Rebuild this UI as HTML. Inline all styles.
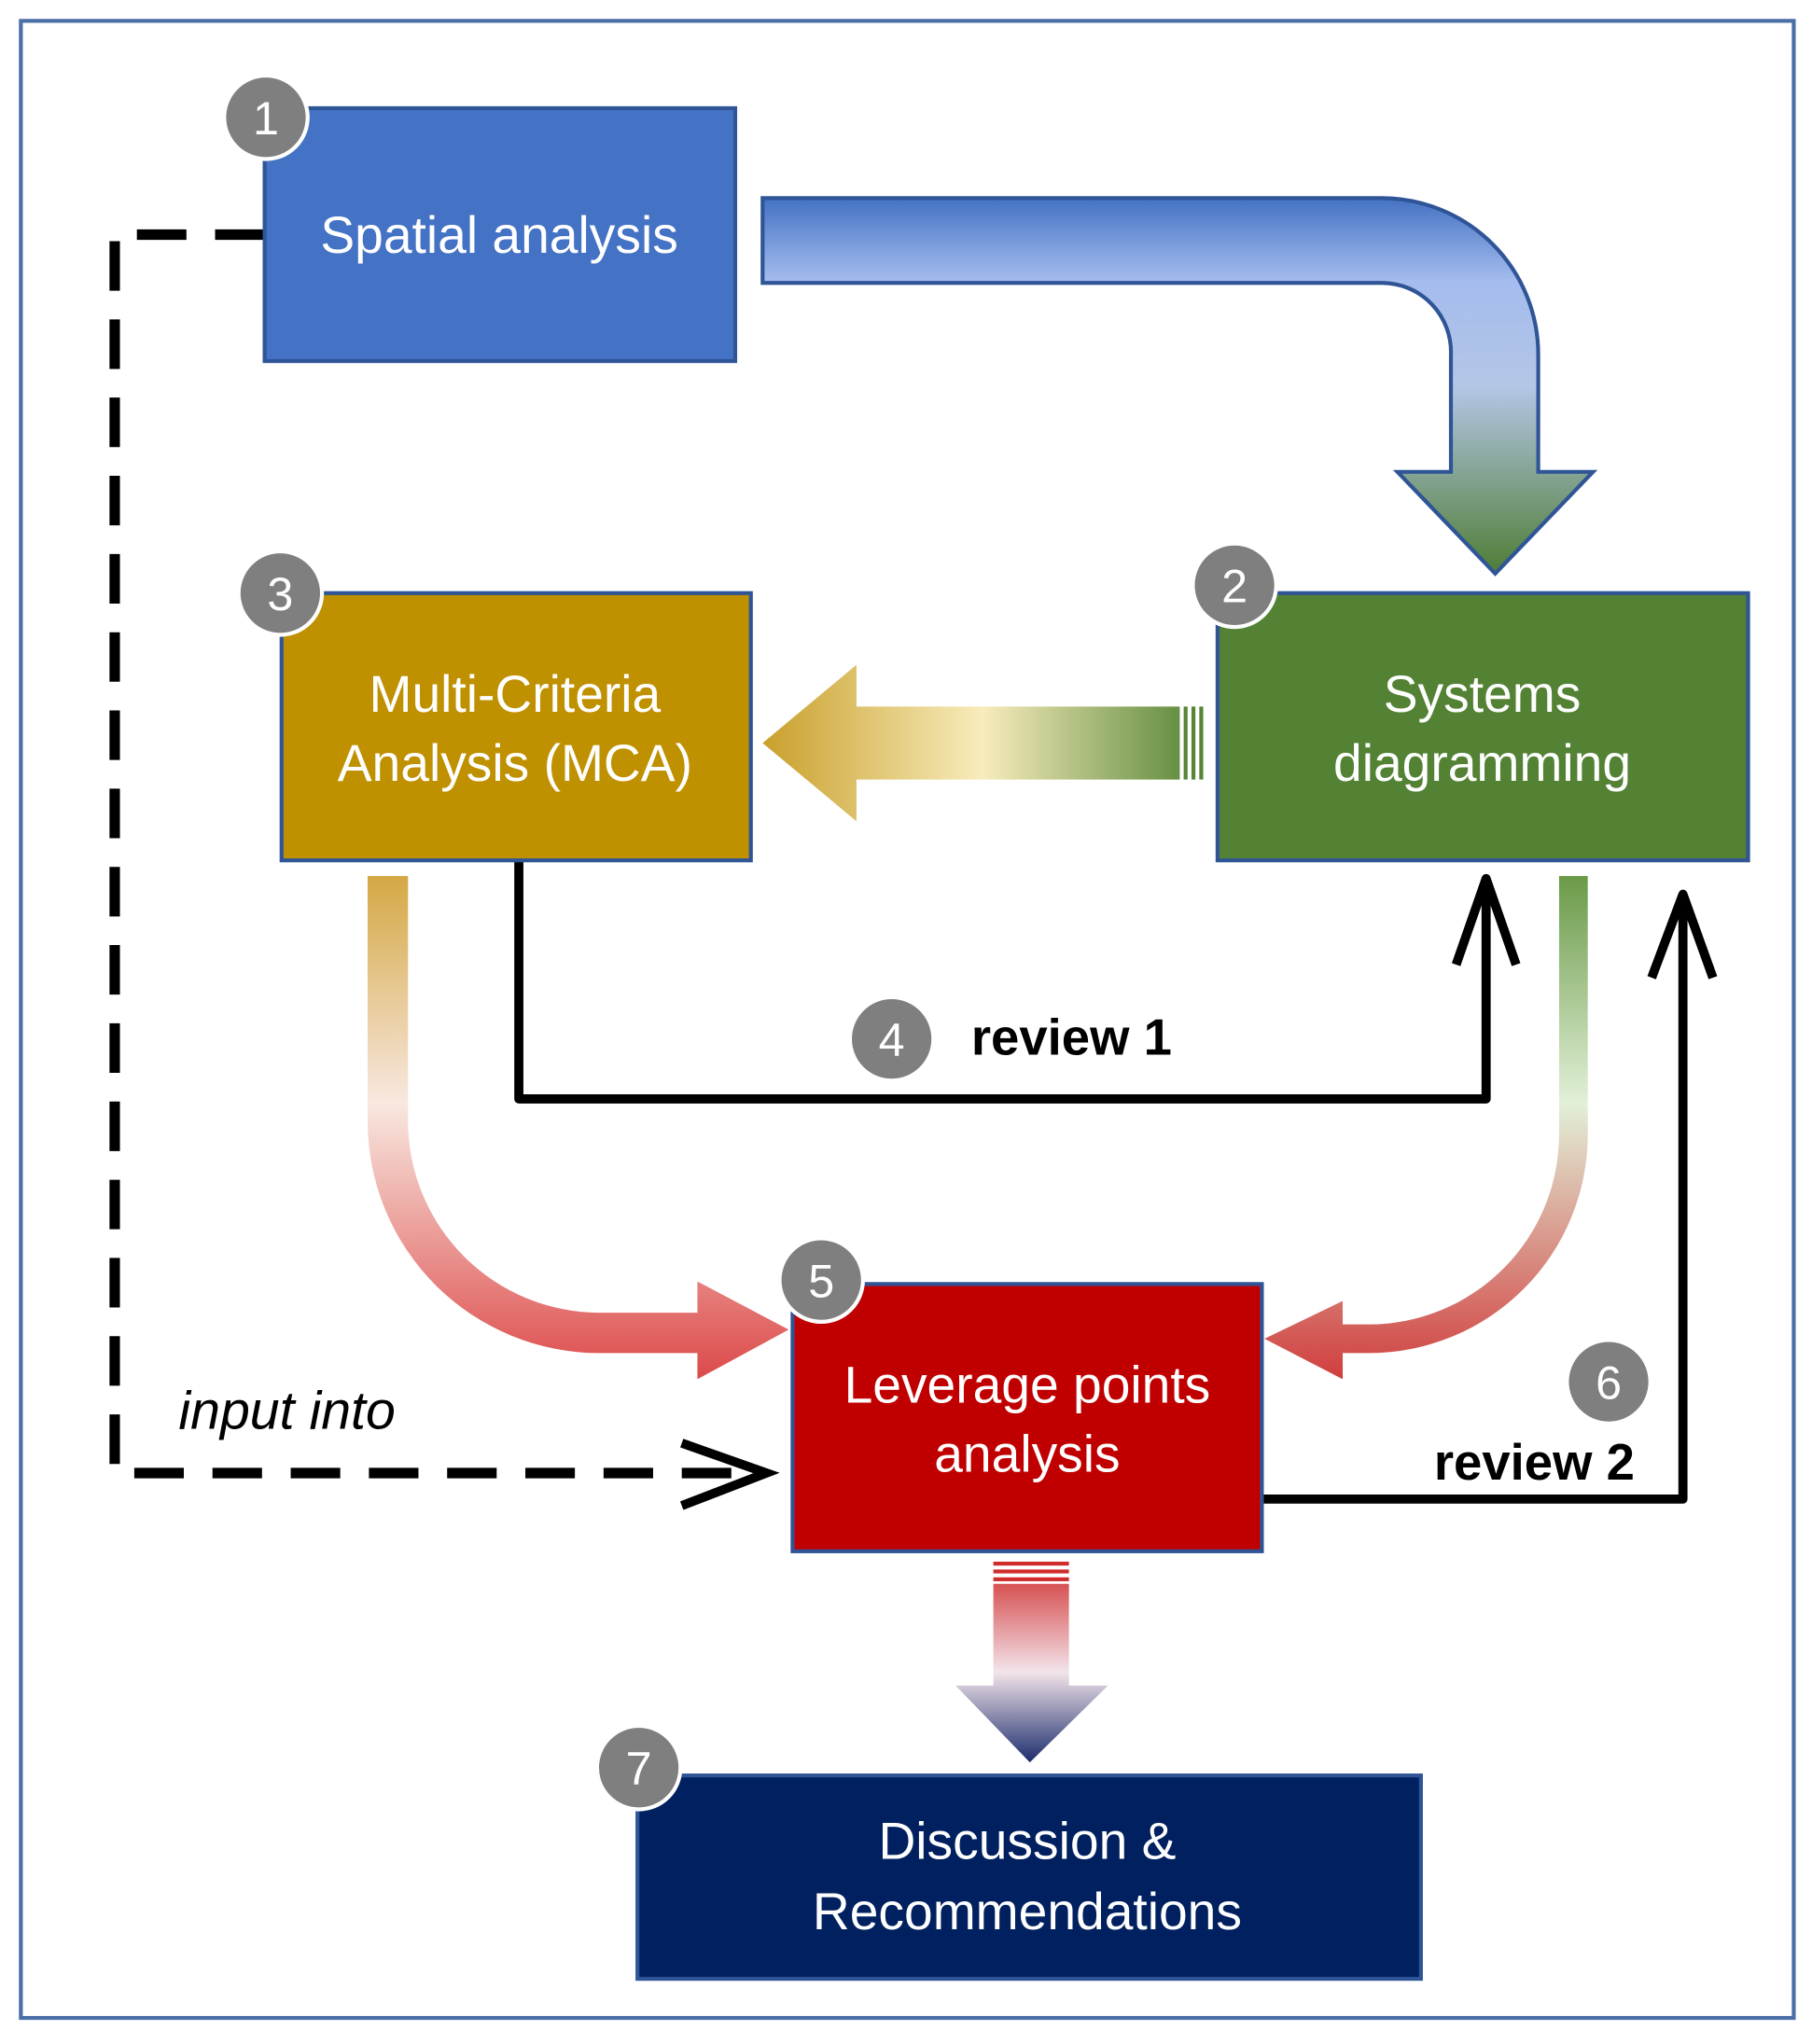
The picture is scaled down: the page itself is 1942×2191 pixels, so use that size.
<!DOCTYPE html>
<html><head><meta charset="utf-8"><style>html,body{margin:0;padding:0;background:#fff}svg{display:block}</style></head><body>
<svg width="1942" height="2191" viewBox="0 0 1390 1568" preserveAspectRatio="none" xmlns="http://www.w3.org/2000/svg" font-family="Liberation Sans, sans-serif">
<defs>
<linearGradient id="g1" x1="0" y1="152" x2="0" y2="440" gradientUnits="userSpaceOnUse">
<stop offset="0" stop-color="#4472c4"/><stop offset="0.22" stop-color="#a4bcee"/><stop offset="0.5" stop-color="#b4c6e6"/><stop offset="1" stop-color="#4f7d35"/></linearGradient>
<linearGradient id="g2" x1="585" y1="0" x2="923" y2="0" gradientUnits="userSpaceOnUse">
<stop offset="0" stop-color="#c9a02c"/><stop offset="0.5" stop-color="#f8ecbc"/><stop offset="1" stop-color="#558535"/></linearGradient>
<linearGradient id="g3" x1="0" y1="672" x2="0" y2="1060" gradientUnits="userSpaceOnUse">
<stop offset="0" stop-color="#d4a844"/><stop offset="0.45" stop-color="#f8e8e0"/><stop offset="1" stop-color="#dc4848"/></linearGradient>
<linearGradient id="g4" x1="0" y1="672" x2="0" y2="1060" gradientUnits="userSpaceOnUse">
<stop offset="0" stop-color="#6a9a48"/><stop offset="0.45" stop-color="#e2f0d8"/><stop offset="1" stop-color="#d03c3c"/></linearGradient>
<linearGradient id="g5" x1="0" y1="1198" x2="0" y2="1352" gradientUnits="userSpaceOnUse">
<stop offset="0" stop-color="#d02c2c"/><stop offset="0.55" stop-color="#f2e4ea"/><stop offset="1" stop-color="#1c2c6c"/></linearGradient>
</defs>
<rect x="16" y="16" width="1360" height="1532" fill="#fff" stroke="#4a6fa5" stroke-width="3"/>

<path d="M585,152 H1060 A120,120 0 0 1 1180,272 V362 H1222 L1147,440 L1072,362 H1113 V272 A53,53 0 0 0 1060,217 H585 Z" fill="url(#g1)" stroke="#2f5597" stroke-width="3"/>

<path d="M585,570 L657,510 V542 H905 V598 H657 V630 Z" fill="url(#g2)"/>
<rect x="908" y="542" width="3" height="56" fill="#558535"/><rect x="914" y="542" width="3" height="56" fill="#558535"/><rect x="920" y="542" width="3" height="56" fill="#558535"/>

<path d="M282,672 H313 V860 A147,147 0 0 0 460,1007 H535 V983 L605,1020 L535,1058 V1038 H460 A178,178 0 0 1 282,860 Z" fill="url(#g3)"/>
<path d="M1196,672 H1218 V870 A168,168 0 0 1 1050,1038 H1030 V1058 L970,1027 L1030,998 V1016 H1050 A146,146 0 0 0 1196,870 Z" fill="url(#g4)"/>
<rect x="762" y="1198" width="58" height="3" fill="#d02c2c"/><rect x="762" y="1204" width="58" height="3" fill="#d02c2c"/><rect x="762" y="1210" width="58" height="3" fill="#d02c2c"/>
<path d="M762,1215 H820 V1293 H850 L790,1352 L733,1293 H762 Z" fill="url(#g5)"/>

<polyline points="398,660 398,843 1140,843 1140,676" fill="none" stroke="#000" stroke-width="7" stroke-linejoin="round"/>
<polyline points="1117,740 1140,674 1163,740" fill="none" stroke="#000" stroke-width="7" stroke-linejoin="round"/>
<polyline points="968,1150 1291,1150 1291,688" fill="none" stroke="#000" stroke-width="7" stroke-linejoin="round"/>
<polyline points="1267,750 1291,686 1314,750" fill="none" stroke="#000" stroke-width="7" stroke-linejoin="round"/>
<polyline points="203,180 88,180 88,1130 585,1130" fill="none" stroke="#000" stroke-width="8" stroke-dasharray="38,22"/>
<polyline points="523,1107 588,1130 523,1155" fill="none" stroke="#000" stroke-width="7"/>

<rect x="203" y="83" width="361" height="194" fill="#4472c4" stroke="#2f5597" stroke-width="3"/>
<rect x="934" y="455" width="407" height="205" fill="#548235" stroke="#2f5597" stroke-width="3"/>
<rect x="216" y="455" width="360" height="205" fill="#bf9000" stroke="#2f5597" stroke-width="3"/>
<rect x="608" y="985" width="360" height="205" fill="#c00000" stroke="#2f5597" stroke-width="3"/>
<rect x="489" y="1362" width="601" height="156" fill="#002060" stroke="#2f5597" stroke-width="3"/>

<g fill="#fff" font-size="39.5" text-anchor="middle">
<text x="383" y="194">Spatial analysis</text>
<text x="1137" y="546">Systems</text><text x="1137" y="599">diagramming</text>
<text x="395" y="546">Multi-Criteria</text><text x="395" y="599">Analysis (MCA)</text>
<text x="788" y="1076">Leverage points</text><text x="788" y="1129">analysis</text>
<text x="788" y="1426">Discussion &amp;</text><text x="788" y="1480">Recommendations</text>
</g>

<g font-size="39" font-weight="bold" fill="#000">
<text x="745" y="809">review 1</text>
<text x="1100" y="1135">review 2</text>
</g>
<text x="137" y="1096" font-size="41" font-style="italic" fill="#000">input into</text>

<g stroke="#fff" stroke-width="3" fill="#7f7f7f">
<circle cx="204" cy="90" r="32"/><circle cx="947" cy="449" r="32"/><circle cx="215" cy="455" r="32"/>
<circle cx="684" cy="797" r="32"/><circle cx="630" cy="982" r="32"/><circle cx="1234" cy="1060" r="32"/><circle cx="490" cy="1356" r="32"/>
</g>
<g fill="#fff" font-size="36" text-anchor="middle">
<text x="204" y="103">1</text><text x="947" y="462">2</text><text x="215" y="468">3</text>
<text x="684" y="810">4</text><text x="630" y="995">5</text><text x="1234" y="1073">6</text><text x="490" y="1369">7</text>
</g>
</svg>
</body></html>
